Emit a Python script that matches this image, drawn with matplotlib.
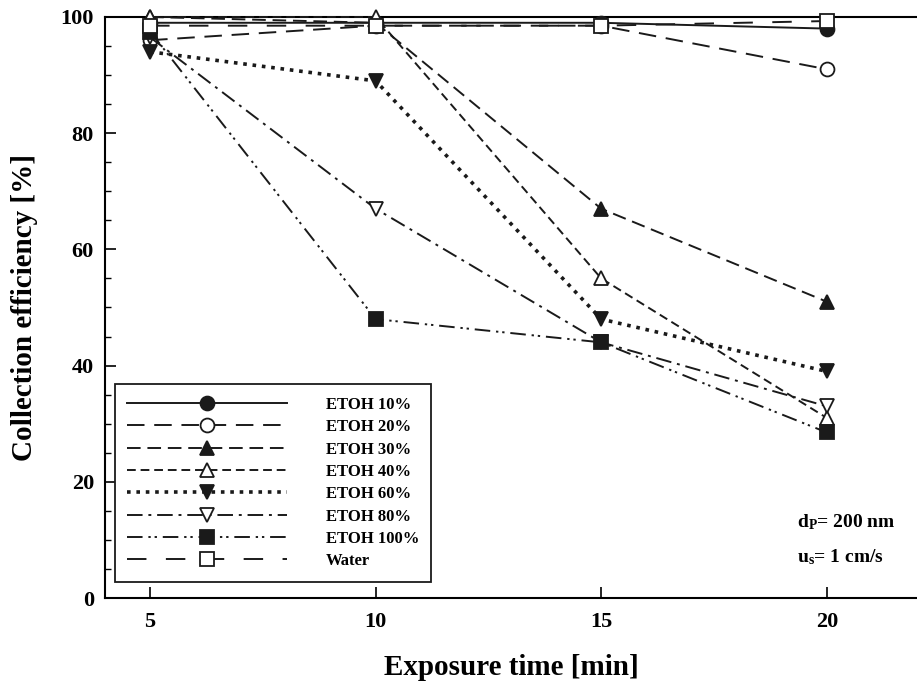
import matplotlib
matplotlib.use("Agg")
import matplotlib.pyplot as plt
from matplotlib.ticker import MultipleLocator

plt.rcParams['font.family'] = ['Liberation Serif', 'DejaVu Serif']
plt.rcParams['font.weight'] = 'bold'
plt.rcParams['mathtext.default'] = 'regular'

# exposure time [min] and collection efficiency [%] per solution
time_min = [5, 10, 15, 20]
etoh10 = [99, 99, 99, 98]
etoh20 = [96, 98.5, 98.5, 91]
etoh30 = [100, 99, 67, 51]
etoh40 = [100, 100, 55, 31]
etoh60 = [94, 89, 48, 39]
etoh80 = [96.5, 67, 44, 33]
etoh100 = [97.5, 48, 44, 28.5]
water = [98.5, 98.5, 98.5, 99.3]

labels = ['ETOH 10%', 'ETOH 20%', 'ETOH 30%', 'ETOH 40%',
          'ETOH 60%', 'ETOH 80%', 'ETOH 100%', 'Water']
series = [etoh10, etoh20, etoh30, etoh40, etoh60, etoh80, etoh100, water]

ink = '#1a1a1a'
styles = [
    dict(ls='-', marker='o', mfc=ink),
    dict(ls=(0, (9, 5)), marker='o', mfc='white'),
    dict(ls=(0, (7, 3.5)), marker='^', mfc=ink),
    dict(ls=(0, (4.5, 2.5)), marker='^', mfc='white'),
    dict(ls=(0, (1, 1.6)), marker='v', mfc=ink, lw=2.6),
    dict(ls=(0, (8, 3, 1.5, 3)), marker='v', mfc='white'),
    dict(ls=(0, (8, 3, 1.2, 2, 1.2, 3)), marker='s', mfc=ink),
    dict(ls=(0, (10, 10)), marker='s', mfc='white'),
]

fig = plt.figure(figsize=(9.17, 6.90), dpi=100)
ax = fig.add_axes([0.1145, 0.1333, 0.8855, 0.8421])

for vals, lab, st in zip(series, labels, styles):
    ax.plot(time_min, vals, color=ink, lw=st.get('lw', 1.4), ls=st['ls'],
            marker=st['marker'], ms=10, mfc=st['mfc'], mec=ink, mew=1.3,
            label=lab, clip_on=False, zorder=3)

ax.set_xlim(4, 22)
ax.set_ylim(0, 100)
ax.set_xticks([5, 10, 15, 20])
ax.yaxis.set_major_locator(MultipleLocator(20))
ax.yaxis.set_minor_locator(MultipleLocator(5))
ax.tick_params(axis='both', which='major', direction='in', length=8,
               width=1.2, labelsize=16, pad=10)
ax.tick_params(axis='y', which='minor', direction='in', length=4, width=1.0)
ax.tick_params(axis='y', pad=8)
ax.tick_params(top=False, right=False)
for side in ['left', 'bottom', 'top']:
    ax.spines[side].set_linewidth(1.5)
ax.spines['right'].set_visible(False)

ax.set_xlabel('Exposure time [min]', fontsize=21, fontweight='bold', labelpad=16)
ax.set_ylabel('Collection efficiency [%]', fontsize=21, fontweight='bold', labelpad=16)

leg = ax.legend(loc='lower left', bbox_to_anchor=(0.012, 0.028), borderaxespad=0,
                fontsize=12, handlelength=9.6, handletextpad=2.3, labelspacing=0.38,
                borderpad=0.75, numpoints=1, fancybox=False, framealpha=1,
                edgecolor=ink, markerfirst=True)
leg.get_frame().set_linewidth(1.3)
for txt in leg.get_texts():
    txt.set_fontweight('bold')

# test conditions, bottom right
ax.text(0.852, 0.130, r'd$_{P}$= 200 nm', transform=ax.transAxes,
        ha='left', va='center', fontsize=14, fontweight='bold')
ax.text(0.852, 0.071, r'u$_{s}$= 1 cm/s', transform=ax.transAxes,
        ha='left', va='center', fontsize=14, fontweight='bold')

fig.savefig('out.png', dpi=100)
